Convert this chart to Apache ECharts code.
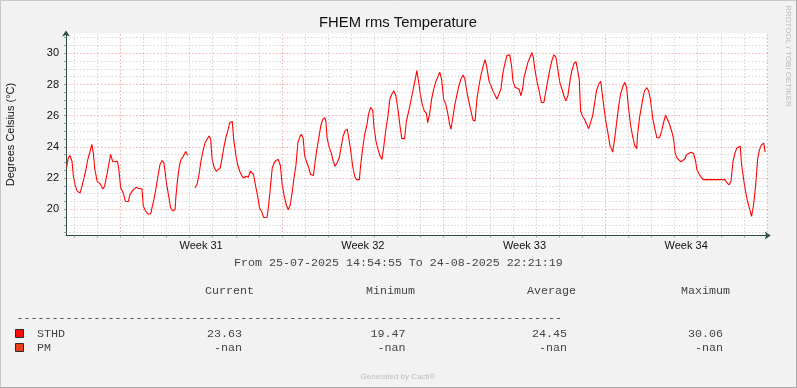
<!DOCTYPE html>
<html><head><meta charset="utf-8">
<script src="https://cdn.jsdelivr.net/npm/echarts@6/dist/echarts.min.js"></script>
<style>html,body{margin:0;padding:0;background:#f2f2f2}#c{width:797px;height:388px}</style>
</head><body><div id="c"></div>
<script>
// days since Monday 2025-07-28 00:00 (start of ISO week 31)
const days = [
-2.32,-2.25,-2.18,-2.09,-2.03,-1.95,-1.86,-1.74,-1.66,-1.57,-1.48,-1.40,-1.31,-1.23,-1.17,-1.10,-1.00,-0.88,-0.76,-0.68,
-0.59,-0.50,-0.42,-0.33,-0.23,-0.13,-0.07,0.02,0.13,0.22,0.35,0.42,0.54,0.68,0.80,0.94,1.00,1.11,1.20,1.32,
1.37,1.46,1.55,1.63,1.72,1.81,1.89,1.95,2.01,2.10,2.18,2.27,2.37,2.41,2.48,2.55,2.63,2.73,2.83,2.89,
2.94,3.08,3.23,3.32,3.41,3.49,3.58,3.67,3.75,3.84,3.91,3.98,4.07,4.16,4.24,4.33,4.42,4.50,4.59,4.68,
4.74,4.85,4.91,5.00,5.08,5.17,5.26,5.34,5.45,5.54,5.63,5.71,5.77,5.86,5.95,6.03,6.12,6.21,6.35,6.41,
6.49,6.58,6.67,6.75,6.84,6.93,7.01,7.10,7.19,7.27,7.36,7.45,7.52,7.61,7.69,7.78,7.84,7.92,7.98,8.07,
8.16,8.24,8.36,8.42,8.50,8.59,8.68,8.76,8.85,8.90,8.96,9.05,9.13,9.22,9.30,9.39,9.48,9.57,9.65,9.74,
9.83,9.91,9.97,10.06,10.15,10.23,10.35,10.41,10.49,10.58,10.67,10.75,10.84,10.93,10.98,11.07,11.16,11.24,11.33,11.41,
11.50,11.59,11.67,11.76,11.84,11.93,12.02,12.11,12.19,12.31,12.39,12.49,12.58,12.67,12.76,12.84,12.90,12.99,13.07,13.16,
13.25,13.31,13.39,13.48,13.57,13.65,13.74,13.83,13.91,14.00,14.09,14.17,14.26,14.32,14.41,14.49,14.58,14.66,14.75,14.84,
14.92,15.01,15.10,15.18,15.27,15.36,15.44,15.53,15.61,15.70,15.79,15.87,15.96,16.05,16.13,16.22,16.31,16.39,16.48,16.57,
16.65,16.74,16.86,16.94,17.00,17.09,17.17,17.26,17.35,17.43,17.48,17.56,17.65,17.74,17.82,17.88,17.97,18.05,18.14,18.23,
18.34,18.43,18.52,18.60,18.69,18.77,18.86,18.95,19.03,19.12,19.21,19.29,19.38,19.47,19.55,19.64,19.73,19.81,19.87,19.93,
20.02,20.10,20.19,20.28,20.36,20.45,20.54,20.62,20.71,20.80,20.88,20.94,21.03,21.11,21.20,21.32,21.40,21.49,21.58,21.66,
21.75,21.84,21.92,22.01,22.10,22.18,22.27,22.36,22.39,22.48,22.57,22.62,22.70,22.80,22.88,22.95,23.06,23.15,23.23,23.35,
23.44,23.52,23.61,23.69,23.78,23.87,23.96,24.02,24.10,24.19,24.28,24.36,24.45,24.51,24.59,24.71,24.82,24.91,24.96,25.05,
25.14,25.24,26.18,26.27,26.36,26.44,26.53,26.62,26.70,26.78,26.84,26.90,26.99,27.07,27.16,27.25,27.33,27.42,27.51,27.60,
27.68,27.77,27.86,27.92
];
const temps = [
22.72,23.30,23.45,23.08,22.12,21.52,21.15,21.05,21.47,22.01,22.59,23.24,23.69,24.16,23.63,22.55,21.79,21.65,21.30,21.47,
22.12,22.87,23.52,23.08,23.05,23.08,22.66,21.37,21.05,20.50,20.50,20.94,21.21,21.41,21.34,21.30,20.18,19.86,19.70,19.70,
20.08,20.66,21.37,22.12,22.87,23.13,22.98,22.87,21.58,20.83,20.08,19.90,19.97,20.83,21.90,22.72,23.19,23.41,23.71,23.52,
23.47,null,21.37,21.58,22.23,23.08,23.73,24.27,24.48,24.70,24.53,23.19,22.66,22.44,22.48,22.66,23.41,24.10,24.70,25.17,
25.56,25.63,24.48,23.52,22.87,22.44,22.16,22.01,22.12,22.05,22.44,22.55,22.23,21.47,20.83,20.08,19.86,19.47,19.47,20.08,
21.26,22.66,22.98,23.15,23.19,22.81,21.58,20.83,20.29,19.97,20.29,21.15,22.01,22.87,24.27,24.66,24.81,24.53,23.45,23.02,
22.66,22.23,22.16,22.87,23.73,24.53,25.34,25.73,25.88,25.66,24.53,23.95,23.63,23.08,22.76,22.98,23.30,24.05,24.70,25.06,
25.13,25.02,23.84,22.76,22.12,21.90,21.90,22.87,23.84,24.81,25.34,26.10,26.53,26.35,25.34,24.37,23.84,23.45,23.19,24.05,
25.13,25.99,27.06,27.39,27.60,27.28,26.42,25.34,24.53,24.53,25.66,26.31,26.95,27.60,28.25,28.89,28.35,27.39,26.74,26.31,
26.16,25.56,26.10,27.06,27.71,28.14,28.46,28.79,28.35,27.06,26.74,26.21,25.45,25.13,25.99,26.74,27.39,27.92,28.35,28.61,
28.35,27.50,26.85,26.31,25.71,25.66,27.06,27.92,28.57,29.11,29.60,29.11,28.25,27.92,27.60,27.32,27.06,27.02,27.71,28.79,
29.32,29.86,29.90,29.21,28.25,27.82,27.92,27.71,27.28,27.82,28.46,28.89,29.43,29.75,30.06,29.75,28.79,28.14,27.54,26.85,
26.85,27.60,28.35,29.00,29.54,29.90,29.75,28.89,28.14,27.71,27.28,26.95,27.28,28.25,28.89,29.32,29.47,29.47,28.35,26.31,
25.95,25.77,25.45,25.17,25.13,25.99,26.85,27.60,28.03,28.21,28.14,26.53,25.56,24.92,24.10,23.67,24.48,25.56,26.63,27.39,
27.82,28.14,27.82,26.42,25.34,24.70,24.10,23.88,24.70,25.88,26.63,27.06,27.60,27.80,27.55,27.06,25.77,25.13,24.59,24.59,
25.02,25.56,26.03,26.03,25.45,25.02,24.48,23.63,23.30,23.15,23.05,22.94,23.24,23.50,23.58,23.66,23.58,23.08,22.55,22.29,
22.08,21.90,21.90,21.69,21.56,21.80,23.08,23.63,23.95,24.05,24.05,22.87,21.90,21.15,20.50,20.01,19.55,20.29,21.58,23.30,
23.84,24.16,24.23,23.66
];
const yTickLabels = [20, 22, 24, 26, 28, 30];
const weekCenters = [3.5, 10.5, 17.5, 24.5];
const weekLabels = ['Week 31', 'Week 32', 'Week 33', 'Week 34'];
const legendNames = ['STHD', 'PM'];
const legendColors = ['#ff0a0a', '#ea3f1b'];
const statHeaders = ['Current', 'Minimum', 'Average', 'Maximum'];
const sthdStats = ['23.63', '19.47', '24.45', '30.06'];
const pmStats = ['-nan', '-nan', '-nan', '-nan'];
const periodText = 'From 25-07-2025 14:54:55 To 24-08-2025 22:21:19';

const X_MIN = -2.35, X_MAX = 28.03, Y_MIN = 18.32, Y_MAX = 31.27;

const seriesData = days.map((d, i) => [d, temps[i] === null ? '-' : temps[i]]);

const minorC = 'rgba(150,150,150,0.4)';
const majorC = 'rgba(222,81,81,0.45)';
const gridLines = [];
for (let d = -2; d <= 28; d++) {
  const major = (d % 7 === 0);
  gridLines.push({xAxis: d, lineStyle: {color: major ? majorC : minorC, type: [1.5, 2], width: 1}});
}
for (let v = 18.5; v <= 31.01; v += 0.5) {
  const major = (v >= 20 && v <= 30 && Math.abs(v % 2) < 1e-6);
  gridLines.push({yAxis: v, lineStyle: {color: major ? majorC : minorC, type: [1.5, 2], width: 1}});
}
const dayTicks = []; for (let d = -2; d <= 28; d++) dayTicks.push(d);
const halfTicks = []; for (let v = 18.5; v <= 31.01; v += 0.5) halfTicks.push(v);

const axisColor = '#2c4d43';
const mono = '11.67px "Liberation Mono"';
const monoColor = '#444';
const sans = '"Liberation Sans"';
const colLeft = [205, 366, 527, 681];
const colRight = [242, 405.5, 567, 723];

const graphics = [
  {type: 'rect', shape: {x: 0.5, y: 0.5, width: 796, height: 387}, style: {fill: 'none', stroke: '#c8c8c8', lineWidth: 1}, silent: true},
  {type: 'line', shape: {x1: 796.5, y1: 0, x2: 796.5, y2: 388}, style: {stroke: '#a8a8a8', lineWidth: 1}},
  {type: 'line', shape: {x1: 0, y1: 387.5, x2: 797, y2: 387.5}, style: {stroke: '#a8a8a8', lineWidth: 1}},
  {type: 'text', x: 398, y: 23, style: {text: 'FHEM rms Temperature', font: '14.8px ' + sans, fill: '#111', align: 'center', verticalAlign: 'middle'}},
  {type: 'text', x: 10.5, y: 134.5, rotation: Math.PI / 2, style: {text: 'Degrees Celsius (°C)', font: '11px ' + sans, fill: '#111', align: 'center', verticalAlign: 'middle'}},
  {type: 'text', x: 788.5, y: 56, rotation: -Math.PI / 2, style: {text: 'RRDTOOL / TOBI OETIKER', font: '8px ' + sans, fill: '#bdbdbd', align: 'center', verticalAlign: 'middle'}},
  {type: 'text', x: 234, y: 263, style: {text: periodText, font: mono, fill: monoColor, align: 'left', verticalAlign: 'middle'}},
  {type: 'text', x: 16.5, y: 317.5, style: {text: '-'.repeat(78), font: mono, fill: monoColor, align: 'left', verticalAlign: 'middle'}},
  {type: 'text', x: 398, y: 377, style: {text: 'Generated by Cacti®', font: '8px ' + sans, fill: '#bdbdbd', align: 'center', verticalAlign: 'middle'}}
];
statHeaders.forEach((h, i) => graphics.push({type: 'text', x: colLeft[i], y: 291, style: {text: h, font: mono, fill: monoColor, align: 'left', verticalAlign: 'middle'}}));
[sthdStats, pmStats].forEach((row, r) => {
  const y = 333.5 + r * 14;
  graphics.push({type: 'rect', shape: {x: 15.5, y: y - 4, width: 8, height: 8}, style: {fill: legendColors[r], stroke: '#2a2a2a', lineWidth: 1}});
  graphics.push({type: 'text', x: 37, y: y, style: {text: legendNames[r], font: mono, fill: monoColor, align: 'left', verticalAlign: 'middle'}});
  row.forEach((s, i) => graphics.push({type: 'text', x: colRight[i], y: y, style: {text: s, font: mono, fill: monoColor, align: 'right', verticalAlign: 'middle'}}));
});

const chart = echarts.init(document.getElementById('c'), null, {renderer: 'canvas'});
chart.setOption({
  animation: false,
  backgroundColor: '#f2f2f2',
  grid: {left: 66, right: 29.3, top: 33.5, bottom: 152.5, show: true, backgroundColor: '#ffffff', borderWidth: 0, containLabel: false, outerBoundsMode: 'none'},
  xAxis: {
    type: 'value', min: X_MIN, max: X_MAX,
    axisLine: {show: true, onZero: false, lineStyle: {color: axisColor, width: 1}, symbol: ['none', 'arrow'], symbolSize: [6, 6], symbolOffset: [0, 3]},
    axisTick: {show: true, customValues: dayTicks, length: 2, inside: false, lineStyle: {color: '#999'}},
    axisLabel: {show: true, customValues: weekCenters, margin: 5, color: '#111', fontFamily: 'Liberation Sans', fontSize: 11,
      formatter: v => weekLabels[Math.round((v - 3.5) / 7)]},
    splitLine: {show: false}
  },
  yAxis: {
    type: 'value', min: Y_MIN, max: Y_MAX,
    axisLine: {show: true, onZero: false, lineStyle: {color: axisColor, width: 1}, symbol: ['none', 'arrow'], symbolSize: [6, 6], symbolOffset: [0, 3]},
    axisTick: {show: true, customValues: halfTicks, length: 2, lineStyle: {color: '#999'}},
    axisLabel: {show: true, customValues: yTickLabels, margin: 7, color: '#111', fontFamily: 'Liberation Sans', fontSize: 11,
      formatter: v => String(Math.round(v))},
    splitLine: {show: false}
  },
  series: [
    {type: 'line', data: [], z: 1, silent: true,
      markLine: {silent: true, symbol: ['none', 'none'], label: {show: false}, animation: false, data: gridLines}},
    {type: 'line', name: 'STHD', data: seriesData, z: 3, showSymbol: false, connectNulls: false,
      lineStyle: {color: '#ff0000', width: 1.1}, itemStyle: {color: '#ff0000'}}
  ],
  graphic: graphics
});
</script></body></html>
